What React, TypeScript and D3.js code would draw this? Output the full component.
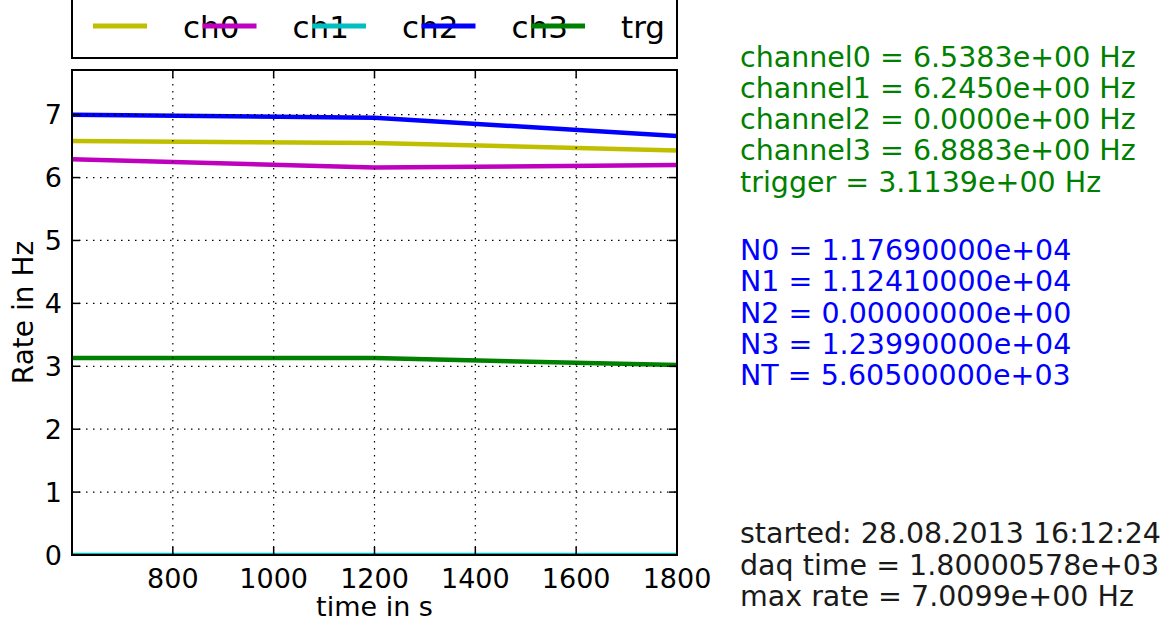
import React from "react";
import * as d3 from "d3";

// Sample times (s) and per-channel rates (Hz)
const times = [600, 1200, 1800];
const ch0 = [6.58, 6.55, 6.43];
const ch1 = [6.29, 6.16, 6.2];
const ch2 = [0, 0, 0];
const ch3 = [7.0, 6.95, 6.66];
const trg = [3.13, 3.13, 3.02];

const seriesNames = ["ch0", "ch1", "ch2", "ch3", "trg"];
const seriesValues = [ch0, ch1, ch2, ch3, trg];
const seriesColors = ["#bfbf00", "#bf00bf", "#00bfbf", "#0000ff", "#008000"];

const xTicks = [800, 1000, 1200, 1400, 1600, 1800];
const yTicks = [0, 1, 2, 3, 4, 5, 6, 7];

const rateLines = [
  "channel0 = 6.5383e+00 Hz",
  "channel1 = 6.2450e+00 Hz",
  "channel2 = 0.0000e+00 Hz",
  "channel3 = 6.8883e+00 Hz",
  "trigger = 3.1139e+00 Hz",
];
const countLines = [
  "N0 = 1.17690000e+04",
  "N1 = 1.12410000e+04",
  "N2 = 0.00000000e+00",
  "N3 = 1.23990000e+04",
  "NT = 5.60500000e+03",
];
const infoLines = [
  "started: 28.08.2013 16:12:24",
  "daq time = 1.80000578e+03",
  "max rate = 7.0099e+00 Hz",
];

const W = 1175;
const H = 621;
const plot = { left: 72, right: 677, top: 70, bottom: 555 };
const FONT = "'DejaVu Sans', sans-serif";

export default function App() {
  const x = d3.scaleLinear().domain([600, 1800]).range([plot.left, plot.right]);
  const y = d3.scaleLinear().domain([0, 7.71]).range([plot.bottom, plot.top]);

  const line = d3
    .line<number>()
    .x((_, i) => x(times[i]))
    .y((v) => y(v));

  // legend entries: a short stroke followed by the label, overlapping the next stroke
  const legendX = d3.scaleLinear().domain([0, 1]).range([93, 202.5]);

  const tickLen = 8;

  return (
    <svg
      width={W}
      height={H}
      style={{ position: "absolute", left: 0, top: 0, background: "#fff" }}
      fontFamily={FONT}
    >
      <rect x={0} y={0} width={W} height={H} fill="#fff" />

      {/* legend box, its top running off the canvas */}
      <rect
        x={plot.left}
        y={-20}
        width={plot.right - plot.left}
        height={78}
        fill="#fff"
        stroke="#000"
        strokeWidth={2}
      />
      {seriesNames.map((name, i) => (
        <g key={name}>
          <line
            x1={legendX(i)}
            x2={legendX(i) + 54}
            y1={26}
            y2={26}
            stroke={seriesColors[i]}
            strokeWidth={5}
          />
          <text x={legendX(i) + 90} y={38} fontSize={31} fill="#000">
            {name}
          </text>
        </g>
      ))}

      <defs>
        <clipPath id="plotClip">
          <rect
            x={plot.left}
            y={plot.top}
            width={plot.right - plot.left}
            height={plot.bottom - plot.top}
          />
        </clipPath>
      </defs>

      {/* series */}
      <g clipPath="url(#plotClip)">
        {seriesValues.map((vals, i) => (
          <path
            key={seriesNames[i]}
            d={line(vals) ?? ""}
            fill="none"
            stroke={seriesColors[i]}
            strokeWidth={4.5}
            strokeLinejoin="round"
          />
        ))}
      </g>

      {/* dotted grid */}
      <g stroke="#000" strokeWidth={1.2} strokeDasharray="1.5,5.5">
        {xTicks.map((t) => (
          <line key={"gx" + t} x1={x(t)} x2={x(t)} y1={plot.top} y2={plot.bottom} />
        ))}
        {yTicks.map((t) => (
          <line key={"gy" + t} x1={plot.left} x2={plot.right} y1={y(t)} y2={y(t)} />
        ))}
      </g>

      {/* ticks on all four sides, pointing inward */}
      <g stroke="#000" strokeWidth={1.5}>
        {xTicks.map((t) => (
          <g key={"tx" + t}>
            <line x1={x(t)} x2={x(t)} y1={plot.bottom} y2={plot.bottom - tickLen} />
            <line x1={x(t)} x2={x(t)} y1={plot.top} y2={plot.top + tickLen} />
          </g>
        ))}
        {yTicks.map((t) => (
          <g key={"ty" + t}>
            <line x1={plot.left} x2={plot.left + tickLen} y1={y(t)} y2={y(t)} />
            <line x1={plot.right} x2={plot.right - tickLen} y1={y(t)} y2={y(t)} />
          </g>
        ))}
      </g>

      {/* frame */}
      <rect
        x={plot.left}
        y={plot.top}
        width={plot.right - plot.left}
        height={plot.bottom - plot.top}
        fill="none"
        stroke="#000"
        strokeWidth={2}
      />

      {/* tick labels */}
      <g fontSize={27} fill="#000">
        {xTicks.map((t) => (
          <text key={"lx" + t} x={x(t)} y={588} textAnchor="middle">
            {t}
          </text>
        ))}
        {yTicks.map((t) => (
          <text key={"ly" + t} x={62} y={y(t)} dy="0.36em" textAnchor="end">
            {t}
          </text>
        ))}
      </g>

      {/* axis titles */}
      <text x={(plot.left + plot.right) / 2} y={616} fontSize={27} textAnchor="middle" fill="#000">
        time in s
      </text>
      <text
        transform={`translate(33, ${(plot.top + plot.bottom) / 2}) rotate(-90)`}
        fontSize={28}
        textAnchor="middle"
        fill="#000"
      >
        Rate in Hz
      </text>

      {/* summary text */}
      <g fontSize={28.5}>
        {rateLines.map((s, i) => (
          <text key={s} x={740} y={66.7 + i * 31.25} fill="#008000">
            {s}
          </text>
        ))}
        {countLines.map((s, i) => (
          <text key={s} x={740} y={260 + i * 31.25} fill="#0000ff">
            {s}
          </text>
        ))}
        {infoLines.map((s, i) => (
          <text key={s} x={740} y={543.3 + i * 31.5} fill="#1a1a1a">
            {s}
          </text>
        ))}
      </g>
    </svg>
  );
}
